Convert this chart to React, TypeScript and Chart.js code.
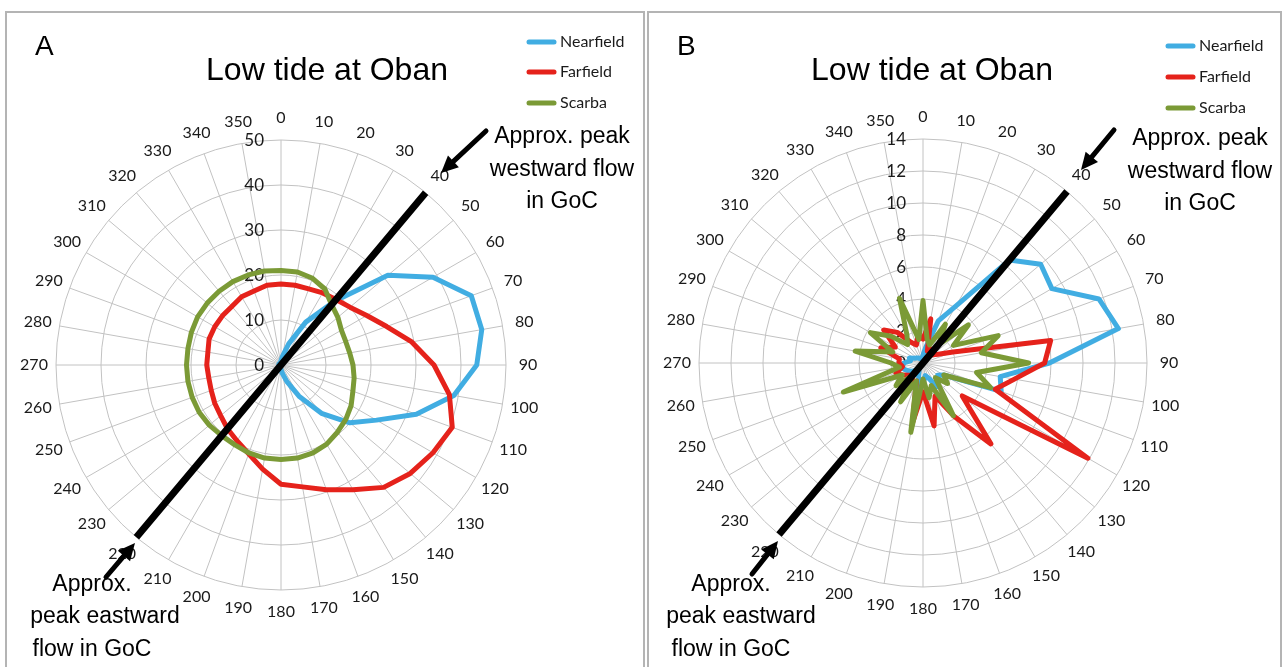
import React, { useEffect, useRef } from "react";
import { Chart, registerables } from "chart.js";

Chart.register(...registerables);

// ---------- DATA ----------
const directions = [
  0, 10, 20, 30, 40, 50, 60, 70, 80, 90, 100, 110, 120, 130, 140, 150, 160, 170,
  180, 190, 200, 210, 220, 230, 240, 250, 260, 270, 280, 290, 300, 310, 320, 330, 340, 350,
];
const directionLabels = directions.map((d) => String(d));
const seriesNames = ["Nearfield", "Farfield", "Scarba"];
const peakAxisDirections = [40, 220];

// Panel A
const ticksA = [0, 10, 20, 30, 40, 50];
const nearfieldA = [
  1, 2, 5, 11, 18.5, 31, 39, 45, 45.3, 43.5, 39, 32, 24.5, 20, 14, 8, 4, 2,
  1, 0.5, 0.5, 0.5, 0.5, 0.5, 0.5, 0.5, 0.5, 0.5, 0.5, 0.5, 0.5, 0.5, 0.5, 0.5, 0.5, 0.5,
];
const farfieldA = [
  18, 18, 18, 18.5, 19, 20, 22, 25, 29.5, 34, 38, 40.5, 39, 37.5, 35.5, 32, 29.5, 27.5,
  26.5, 23.5, 21, 19.5, 18.5, 17.5, 17, 16.5, 16.3, 16.5, 16.5, 17, 17, 17, 17, 17.5, 17.5, 18,
];
const scarbaA = [
  21, 21, 20.5, 19.5, 17.5, 16.5, 15.5, 15.3, 15.5, 16, 16.5, 17, 18, 18.8, 19.5, 20.3, 20.8, 21,
  21, 21, 20.8, 20.5, 20.5, 20.8, 21, 21, 21, 21, 21, 21.2, 21.4, 21.4, 21.4, 21.4, 21.3, 21.2,
];

// Panel B
const ticksB = [0, 2, 4, 6, 8, 10, 12, 14];
const nearfieldB = [
  0.5, 1, 2.8, 4.1, 8.4, 9.6, 9.3, 11.7, 12.4, 7.9, 4.9, 5.2, 1.5, 1.2, 1.5, 1.7, 1, 0.8,
  1.3, 1.5, 0.8, 0.5, 0.5, 0.8, 1, 1.2, 1.4, 1.2, 0.8, 0.9, 0.6, 0.5, 0.4, 0.3, 0.3, 0.3,
];
const farfieldB = [
  1.5, 2.8, 0.8, 1, 0.8, 0.8, 1.1, 2.0, 8.1, 7.6, 5.8, 4.8, 11.9, 3.2, 6.6, 3.8, 2.2, 4.0,
  1.8, 3.8, 1.2, 1.5, 1, 1.2, 1.5, 1.8, 1.3, 1.5, 1.5, 2.8, 2.0, 3.2, 2.5, 1.5, 1.2, 1.8,
];
const scarbaB = [
  3.9, 1.5, 1.2, 2.8, 1.5, 3.7, 2.2, 5.0, 3.7, 6.6, 3.4, 4.5, 1.5, 2.0, 1.2, 3.8, 1.5, 2.2,
  1.0, 4.4, 1.2, 2.8, 1.0, 2.2, 1.5, 5.3, 1.5, 2.0, 4.3, 2.0, 3.8, 2.6, 1.5, 2.0, 4.3, 1.5,
];

// ---------- STYLE / LAYOUT ----------
const BLUE = "#41ade2";
const RED = "#e5221b";
const GREEN = "#7b9a36";
const GRID = "#c2c2c2";
const TEXT = "#1a1a1a";
const SANS = "'Liberation Sans', Arial, sans-serif";
const NUM = "Lato, 'Open Sans', sans-serif";

type Spec = {
  letter: string;
  left: number;
  width: number;
  cx: number;
  cy: number;
  R: number;
  ticks: number[];
  near: number[];
  far: number[];
  scarba: number[];
  letterX: number;
  titleX: number;
  legendX: number;
  legendY: number[];
  topNoteX: number;
  topNoteY: number[];
  botNoteX: number[];
  botNoteY: number[];
  arrows: number[][];
};

const specs: Spec[] = [
  {
    letter: "A",
    left: 0,
    width: 645,
    cx: 281,
    cy: 365,
    R: 225,
    ticks: ticksA,
    near: nearfieldA,
    far: farfieldA,
    scarba: scarbaA,
    letterX: 35,
    titleX: 327,
    legendX: 527,
    legendY: [42, 72, 103],
    topNoteX: 562,
    topNoteY: [143, 176, 208],
    botNoteX: [92, 105, 92],
    botNoteY: [591, 623, 656],
    arrows: [
      [486, 131, 441, 173],
      [106, 577, 135, 543],
    ],
  },
  {
    letter: "B",
    left: 645,
    width: 638,
    cx: 278,
    cy: 363,
    R: 224,
    ticks: ticksB,
    near: nearfieldB,
    far: farfieldB,
    scarba: scarbaB,
    letterX: 677,
    titleX: 932,
    legendX: 1166,
    legendY: [46, 77, 108],
    topNoteX: 1200,
    topNoteY: [145, 178, 210],
    botNoteX: [731, 741, 731],
    botNoteY: [591, 623, 656],
    arrows: [
      [1114, 130, 1081, 170],
      [752, 574, 778, 541],
    ],
  },
];

function drawArrow(ctx: CanvasRenderingContext2D, x1: number, y1: number, x2: number, y2: number) {
  const ang = Math.atan2(y2 - y1, x2 - x1);
  const headLen = 17;
  const headW = 8;
  const bx = x2 - headLen * Math.cos(ang);
  const by = y2 - headLen * Math.sin(ang);
  ctx.save();
  ctx.strokeStyle = "#000";
  ctx.fillStyle = "#000";
  ctx.lineWidth = 5;
  ctx.beginPath();
  ctx.moveTo(x1, y1);
  ctx.lineTo(bx, by);
  ctx.stroke();
  ctx.beginPath();
  ctx.moveTo(x2, y2);
  ctx.lineTo(bx + headW * Math.sin(ang), by - headW * Math.cos(ang));
  ctx.lineTo(bx - headW * Math.sin(ang), by + headW * Math.cos(ang));
  ctx.closePath();
  ctx.fill();
  ctx.restore();
}

function makePlugin(spec: Spec) {
  const ox = spec.left;
  return {
    id: "decor" + spec.letter,
    beforeDatasetsDraw(chart: any) {
      const s = chart.scales.r;
      const ctx: CanvasRenderingContext2D = chart.ctx;
      ctx.save();
      ctx.fillStyle = TEXT;
      ctx.font = `17px ${NUM}`;
      ctx.textAlign = "right";
      ctx.textBaseline = "middle";
      s.ticks.forEach((t: any) => {
        const d = s.getDistanceFromCenterForValue(t.value);
        ctx.fillText(String(t.label), s.xCenter - 17, s.yCenter - d + 1);
      });
      ctx.font = `16px ${NUM}`;
      ctx.textAlign = "center";
      (chart.data.labels as string[]).forEach((lab, i) => {
        const p = s.getPointPosition(i, s.drawingArea + 22);
        ctx.fillText(lab, p.x, p.y);
      });
      ctx.restore();
    },
    afterDraw(chart: any) {
      const ctx: CanvasRenderingContext2D = chart.ctx;
      ctx.save();
      ctx.fillStyle = "#000";
      ctx.textBaseline = "alphabetic";
      // panel letter
      ctx.font = `28px ${SANS}`;
      ctx.textAlign = "left";
      ctx.fillText(spec.letter, spec.letterX - ox, 55);
      // title
      ctx.font = `32px ${SANS}`;
      ctx.textAlign = "center";
      ctx.fillText("Low tide at Oban", spec.titleX - ox, 80);
      // legend
      const colors = [BLUE, RED, GREEN];
      ctx.font = `16px ${NUM}`;
      ctx.textAlign = "left";
      ctx.textBaseline = "middle";
      seriesNames.forEach((name, i) => {
        const y = spec.legendY[i];
        ctx.strokeStyle = colors[i];
        ctx.lineWidth = 5;
        ctx.lineCap = "round";
        ctx.beginPath();
        ctx.moveTo(spec.legendX - ox + 2, y);
        ctx.lineTo(spec.legendX - ox + 27, y);
        ctx.stroke();
        ctx.fillStyle = TEXT;
        ctx.fillText(name, spec.legendX - ox + 33, y);
      });
      // notes
      ctx.fillStyle = "#000";
      ctx.textBaseline = "alphabetic";
      ctx.textAlign = "center";
      ctx.font = `23px ${SANS}`;
      ["Approx. peak", "westward flow", "in GoC"].forEach((t, i) => {
        ctx.fillText(t, spec.topNoteX - ox, spec.topNoteY[i]);
      });
      ["Approx.", "peak eastward", "flow in GoC"].forEach((t, i) => {
        ctx.fillText(t, spec.botNoteX[i] - ox, spec.botNoteY[i]);
      });
      spec.arrows.forEach((a) => drawArrow(ctx, a[0] - ox, a[1], a[2] - ox, a[3]));
      ctx.restore();
    },
  };
}

function Panel({ spec }: { spec: Spec }) {
  const ref = useRef<HTMLCanvasElement | null>(null);
  useEffect(() => {
    if (!ref.current) return;
    const rMax = spec.ticks[spec.ticks.length - 1];
    const step = spec.ticks[1] - spec.ticks[0];
    const axisLine = directions.map((d) => (peakAxisDirections.includes(d) ? rMax : null));
    const line = (label: string, data: (number | null)[], color: string, width: number, extra: any = {}) => ({
      label,
      data,
      borderColor: color,
      backgroundColor: "transparent",
      borderWidth: width,
      fill: false,
      pointRadius: 0,
      pointHoverRadius: 0,
      tension: 0,
      borderJoinStyle: "round",
      ...extra,
    });
    const chart = new Chart(ref.current, {
      type: "radar",
      data: {
        labels: directionLabels,
        datasets: [
          line("Peak flow axis", axisLine, "#000", 7, { spanGaps: true, borderJoinStyle: "miter" }),
          line(seriesNames[2], spec.scarba, GREEN, 5),
          line(seriesNames[1], spec.far, RED, 5),
          line(seriesNames[0], spec.near, BLUE, 5),
        ],
      } as any,
      plugins: [makePlugin(spec)],
      options: {
        responsive: false,
        animation: false,
        events: [],
        layout: { padding: 0 },
        plugins: { legend: { display: false }, tooltip: { enabled: false }, title: { display: false } },
        scales: {
          r: {
            min: 0,
            max: rMax,
            ticks: { stepSize: step, display: false },
            pointLabels: { display: false },
            grid: { circular: true, color: GRID, lineWidth: 1 },
            angleLines: { display: true, color: GRID, lineWidth: 1 },
            afterFit: (scale: any) => {
              scale.xCenter = spec.cx;
              scale.yCenter = spec.cy;
              scale.drawingArea = spec.R;
            },
          },
        },
      } as any,
    });
    return () => chart.destroy();
  }, [spec]);
  return (
    <canvas
      ref={ref}
      width={spec.width}
      height={667}
      style={{ position: "absolute", left: spec.left, top: 0, width: spec.width, height: 667 }}
    />
  );
}

export default function App() {
  return (
    <div
      style={{
        position: "fixed",
        left: 0,
        top: 0,
        width: 1283,
        height: 667,
        background: "#fff",
        overflow: "hidden",
      }}
    >
      <div style={{ position: "absolute", left: 5, top: 11, width: 636, height: 680, border: "2px solid #b4b4b4" }} />
      <div style={{ position: "absolute", left: 647, top: 11, width: 631, height: 680, border: "2px solid #b4b4b4" }} />
      {specs.map((s) => (
        <Panel key={s.letter} spec={s} />
      ))}
    </div>
  );
}
